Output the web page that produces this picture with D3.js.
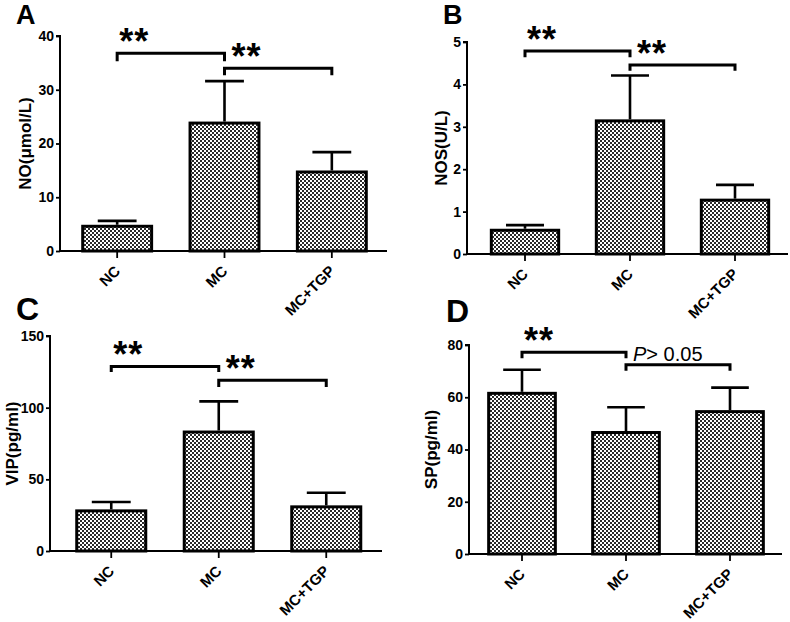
<!DOCTYPE html>
<html>
<head>
<meta charset="utf-8">
<script src="https://cdn.jsdelivr.net/npm/d3@7"></script>
<style>
  html, body { margin: 0; padding: 0; background: #fff; }
  svg { display: block; }
  text { font-family: "Liberation Sans", Arial, sans-serif; }
</style>
</head>
<body>
<svg id="chart" width="790" height="622"></svg>
<script>
// ---------------- DATA ----------------
const categories = ["NC", "MC", "MC+TGP"];

const noMean  = [4.6, 23.8, 14.7];
const noSD    = [1.0, 7.8, 3.7];
const noTicks = [0, 10, 20, 30, 40];

const nosMean  = [0.56, 3.14, 1.27];
const nosSD    = [0.12, 1.07, 0.36];
const nosTicks = [0, 1, 2, 3, 4, 5];

const vipMean  = [28.0, 83.0, 30.8];
const vipSD    = [6.2, 21.4, 9.8];
const vipTicks = [0, 50, 100, 150];

const spMean  = [61.5, 46.5, 54.5];
const spSD    = [9.0, 9.7, 9.2];
const spTicks = [0, 20, 40, 60, 80];

// significance brackets: [fromIndex, toIndex, level, dropTo, label]
const noBrackets  = [[0, 1, 36.8, 35.3, "**"], [1, 2, 34.0, 32.7, "**"]];
const nosBrackets = [[0, 1, 4.79, 4.64, "**"], [1, 2, 4.46, 4.32, "**"]];
const vipBrackets = [[0, 1, 128.8, 124.9, "**"], [1, 2, 119.1, 114.4, "**"]];
const spBrackets  = [[0, 1, 77.2, 74.9, "**"], [1, 2, 72.4, 70.1, "P> 0.05"]];

// ---------------- LAYOUT ----------------
const panels = [
  { letter: "A", letterX: 16, letterY: 24, letterSize: 27,
    axisL: 60, axisR: 387, bandL: 63.5, bandR: 385.5, top: 36, bottom: 251,
    yLabel: "NO(\u03bcmol/L)", yLabelX: 25,
    mean: noMean, sd: noSD, ticks: noTicks, brackets: noBrackets },
  { letter: "B", letterX: 443, letterY: 24, letterSize: 27,
    axisL: 467, axisR: 788, bandL: 472.5, bandR: 787.5, top: 42, bottom: 254,
    yLabel: "NOS(U/L)", yLabelX: 441,
    mean: nosMean, sd: nosSD, ticks: nosTicks, brackets: nosBrackets },
  { letter: "C", letterX: 16, letterY: 320, letterSize: 32,
    axisL: 50, axisR: 382, bandL: 57.5, bandR: 380, top: 336, bottom: 551,
    yLabel: "VIP(pg/ml)", yLabelX: 12,
    mean: vipMean, sd: vipSD, ticks: vipTicks, brackets: vipBrackets },
  { letter: "D", letterX: 446, letterY: 322, letterSize: 32,
    axisL: 469, axisR: 782, bandL: 470, bandR: 782, top: 345, bottom: 554,
    yLabel: "SP(pg/ml)", yLabelX: 431,
    mean: spMean, sd: spSD, ticks: spTicks, brackets: spBrackets }
];

const svg = d3.select("#chart");

// checkered pattern fill
const defs = svg.append("defs");
const pat = defs.append("pattern")
  .attr("id", "checks").attr("patternUnits", "userSpaceOnUse")
  .attr("width", 4).attr("height", 4);
pat.append("rect").attr("width", 4).attr("height", 4).attr("fill", "#ffffff");
pat.append("rect").attr("x", 0).attr("y", 0).attr("width", 2).attr("height", 2).attr("fill", "#2a2a2a");
pat.append("rect").attr("x", 2).attr("y", 2).attr("width", 2).attr("height", 2).attr("fill", "#2a2a2a");

panels.forEach(p => {
  const g = svg.append("g");
  const x = d3.scaleBand().domain(categories).range([p.bandL, p.bandR]).paddingInner(0.33).paddingOuter(0.165);
  const yMax = p.ticks[p.ticks.length - 1];
  const y = d3.scaleLinear().domain([0, yMax]).range([p.bottom, p.top]);
  const bw = x.bandwidth();

  // panel letter
  g.append("text").attr("x", p.letterX).attr("y", p.letterY)
    .attr("font-size", p.letterSize).attr("font-weight", "bold").text(p.letter);

  // bars
  g.selectAll("rect.bar").data(categories).enter().append("rect")
    .attr("class", "bar")
    .attr("x", d => x(d) + 1.5)
    .attr("width", bw - 3)
    .attr("y", (d, i) => y(p.mean[i]))
    .attr("height", (d, i) => y(0) - y(p.mean[i]))
    .attr("fill", "url(#checks)")
    .attr("stroke", "#000").attr("stroke-width", 3);

  // error bars (upper only)
  const capHalf = bw * 0.27;
  categories.forEach((c, i) => {
    const cx = x(c) + bw / 2;
    const yt = y(p.mean[i] + p.sd[i]);
    g.append("line").attr("x1", cx).attr("x2", cx)
      .attr("y1", y(p.mean[i]) - 1.5).attr("y2", yt)
      .attr("stroke", "#000").attr("stroke-width", 2.6);
    g.append("line").attr("x1", cx - capHalf).attr("x2", cx + capHalf)
      .attr("y1", yt).attr("y2", yt)
      .attr("stroke", "#000").attr("stroke-width", 2.6);
  });

  // y axis
  const yAxis = d3.axisLeft(y).tickValues(p.ticks).tickSize(4).tickPadding(2).tickFormat(d3.format("d"));
  const ya = g.append("g").attr("transform", `translate(${p.axisL},0)`).call(yAxis);
  ya.select(".domain").attr("stroke-width", 2).attr("d", `M-4,${p.top}H0V${p.bottom}`);
  ya.selectAll(".tick line").attr("stroke-width", 1.8);
  ya.selectAll(".tick text").attr("font-size", 14).attr("font-weight", "bold")
    .attr("font-family", "Liberation Sans, Arial, sans-serif").attr("fill", "#000");

  // x axis
  const xa = g.append("g").attr("transform", `translate(0,${p.bottom})`);
  xa.append("line").attr("x1", p.axisL).attr("x2", p.axisR).attr("y1", 0).attr("y2", 0)
    .attr("stroke", "#000").attr("stroke-width", 2);
  categories.forEach(c => {
    const cx = x(c) + bw / 2;
    xa.append("line").attr("x1", cx).attr("x2", cx).attr("y1", 0).attr("y2", 7)
      .attr("stroke", "#000").attr("stroke-width", 1.8);
    xa.append("text")
      .attr("transform", `translate(${cx + 4},${21}) rotate(-45)`)
      .attr("text-anchor", "end")
      .attr("font-size", 15).attr("font-weight", "bold").text(c);
  });

  // y label
  g.append("text")
    .attr("transform", `translate(${p.yLabelX + 6},${(p.top + p.bottom) / 2}) rotate(-90)`)
    .attr("text-anchor", "middle")
    .attr("font-size", 17).attr("font-weight", "bold").text(p.yLabel);

  // brackets
  p.brackets.forEach((b, k) => {
    const x1 = x(categories[b[0]]) + bw / 2;
    const x2 = x(categories[b[1]]) + bw / 2;
    const yl = y(b[2]);
    const yd = y(b[3]);
    g.append("path")
      .attr("d", `M${x1},${yd}V${yl}H${x2}V${yd}`)
      .attr("fill", "none").attr("stroke", "#000").attr("stroke-width", 3);
    if (b[4] === "**") {
      g.append("text").attr("x", x1 + (k === 0 ? 2 : 7)).attr("y", yl + 1)
        .attr("font-size", 36).attr("font-weight", "bold")
        .attr("letter-spacing", 1).text(b[4]);
    } else {
      const t = g.append("text").attr("x", x1 + 7).attr("y", yl - 4)
        .attr("font-size", 20);
      t.append("tspan").attr("font-style", "italic").text("P");
      t.append("tspan").text(b[4].slice(1));
    }
  });
});
</script>
</body>
</html>
